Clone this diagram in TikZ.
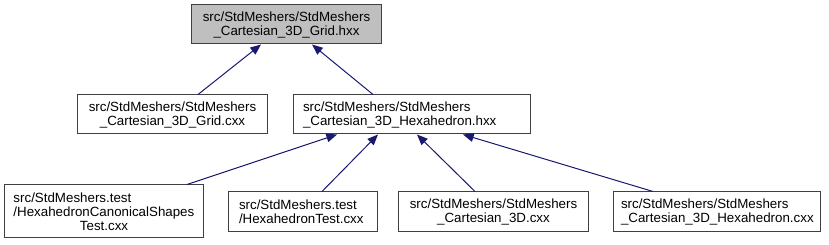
\documentclass[tikz,border=0pt]{standalone}
\usepackage{fontspec}
\setmainfont{Liberation Sans}
\usetikzlibrary{arrows.meta, calc}
\definecolor{edgeBlue}{HTML}{191970}
\definecolor{boxLine}{HTML}{404040}
\definecolor{boxGray}{HTML}{BFBFBF}
\tikzset{
  every node/.style={font=\fontsize{10}{10.5}\selectfont},
  file/.style={draw=boxLine, line width=0.75pt, fill=white, inner ysep=1pt,
               inner xsep=8.25pt, minimum height=29.25pt, align=center},
  fileL/.style={file, align=left},
  fileTop/.style={file, fill=boxGray},
  inc/.style={{Triangle[length=8pt, width=6.5pt]}-, edgeBlue, line width=0.75pt},
}
\begin{document}
\begin{tikzpicture}[x=0.75pt, y=-0.75pt]
  \useasboundingbox (0,0) rectangle (829,245);
  % header and its direct includers
  \node[fileTop, minimum width=141.75pt] (grid) at (286.5,24.5)
    {src/StdMeshers/StdMeshers\\\_Cartesian\_3D\_Grid.hxx};
  \node[file, minimum width=141.75pt] (gridc) at (172.5,114.5)
    {src/StdMeshers/StdMeshers\\\_Cartesian\_3D\_Grid.cxx};
  \node[fileL, text width=162.75pt, inner xsep=7.5pt] (hexh) at (411.5,114.5)
    {src/StdMeshers/StdMeshers\\\_Cartesian\_3D\_Hexahedron.hxx};
  % files that include the hexahedron header
  \node[fileL, text width=135.75pt, inner xsep=6.4pt, minimum height=39.75pt] (canon) at (104,211.5)
    {src/StdMeshers.test\\/HexahedronCanonicalShapes\\\hfill Test.cxx\hfill\null};
  \node[fileL, text width=95.25pt, minimum height=30pt] (hextest) at (302.5,212)
    {src/StdMeshers.test\\/HexahedronTest.cxx};
  \node[file, minimum width=140.25pt, minimum height=30pt] (cart) at (493.5,212)
    {src/StdMeshers/StdMeshers\\\_Cartesian\_3D.cxx};
  \node[fileL, text width=143.25pt, inner xsep=6pt, minimum height=30pt] (hexc) at (716.5,212)
    {src/StdMeshers/StdMeshers\\\_Cartesian\_3D\_Hexahedron.cxx};
  % include edges
  \draw[inc] ($(grid.south)+(-25.5,0)$) -- ($(gridc.north)+(25.5,0)$);
  \draw[inc] ($(grid.south)+(25.5,0)$) -- ($(hexh.north)+(-38.5,0)$);
  \draw[inc] ($(hexh.south)+(-74.5,0)$) -- ($(canon.north)+(83,0)$);
  \draw[inc] ($(hexh.south)+(-33.5,0)$) -- ($(hextest.north)+(19.5,0)$);
  \draw[inc] ($(hexh.south)+(5.5,0)$) -- ($(cart.north)+(-18.5,0)$);
  \draw[inc] ($(hexh.south)+(51.5,0)$) -- ($(hexc.north)+(-63.5,0)$);
\end{tikzpicture}
\end{document}
